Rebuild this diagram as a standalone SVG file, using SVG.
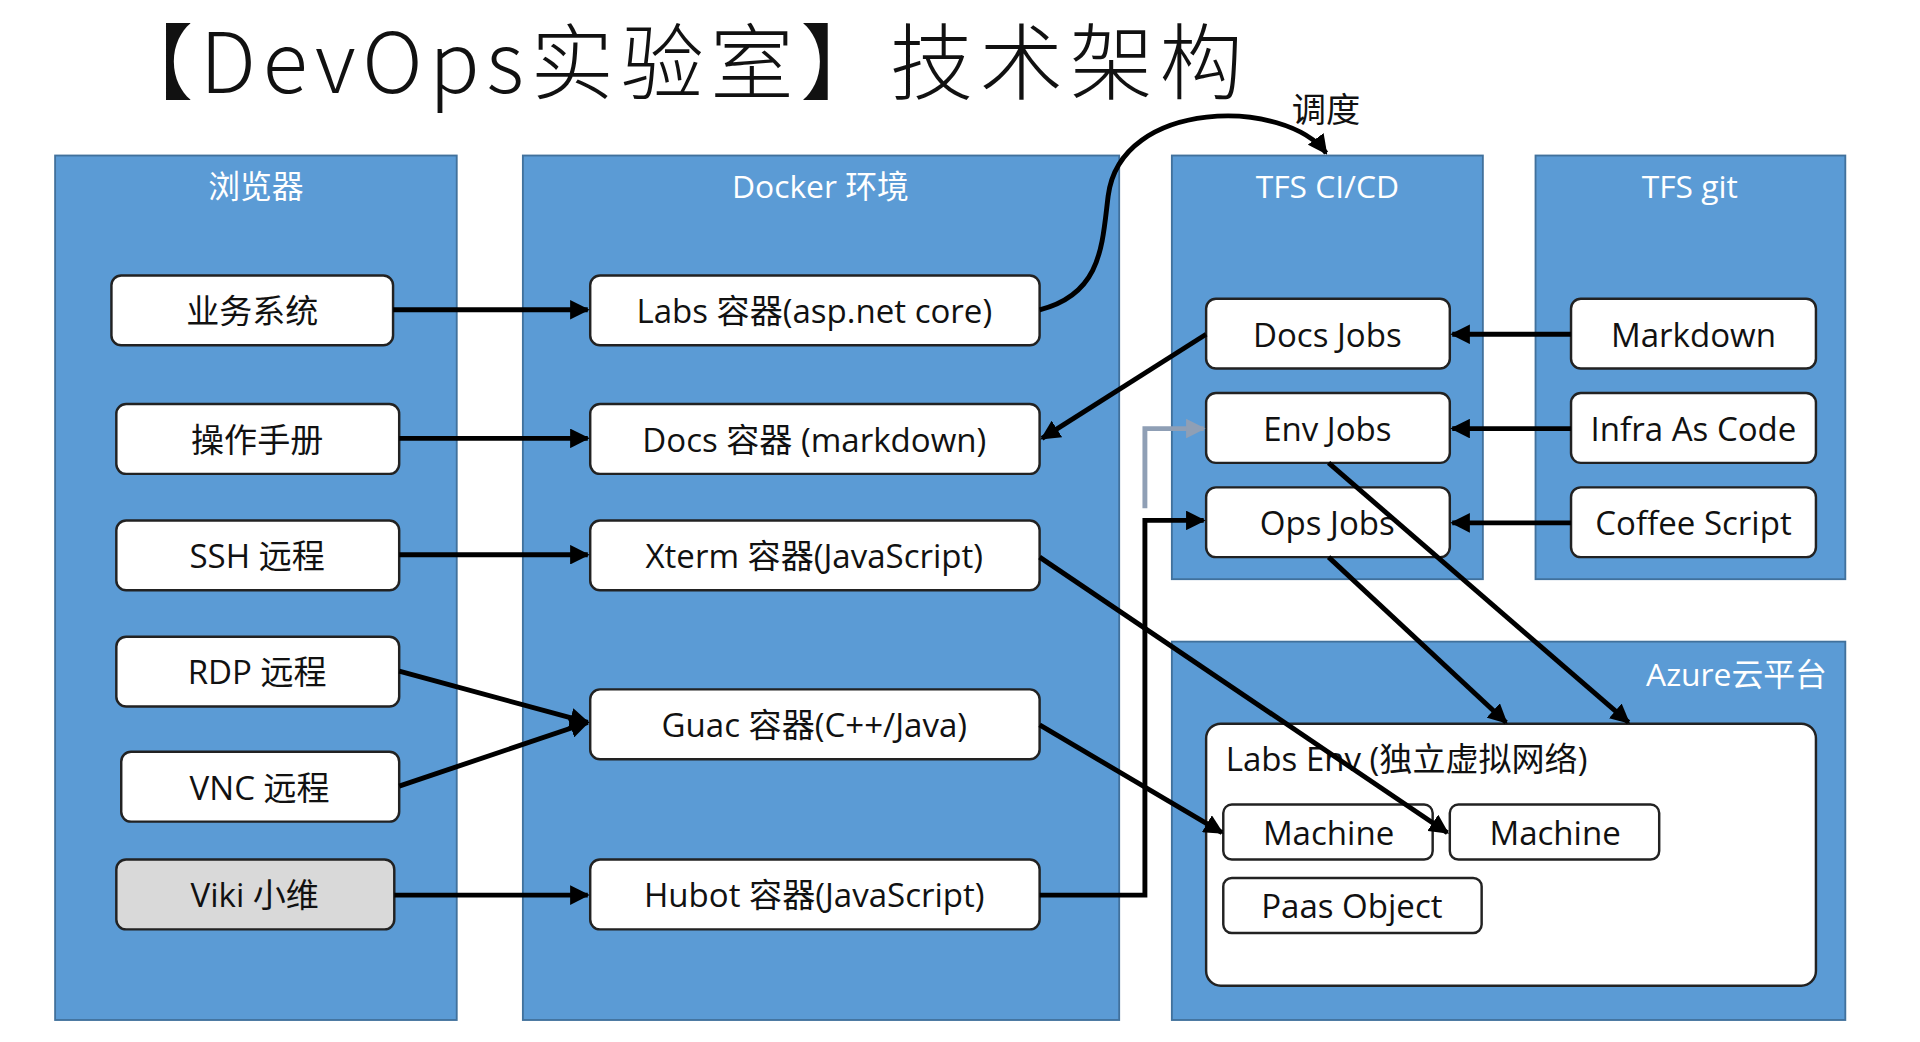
<svg xmlns="http://www.w3.org/2000/svg" width="1920" height="1042" viewBox="0 0 1920 1042">
<style>
.p{fill:#5b9bd5;stroke:#41719c;stroke-width:1.5}
.pt{fill:#fff;font-family:"Open Sans","Noto Sans CJK SC",sans-serif;font-size:26px;text-anchor:middle}
.n{fill:#fff;stroke:#222;stroke-width:2}
.t{fill:#111;font-family:"Open Sans","Noto Sans CJK SC",sans-serif;font-size:27px;text-anchor:middle}
.c{fill:none;stroke:#000;stroke-width:4;marker-end:url(#a)}
</style>
<defs>
<marker id="a" viewBox="0 0 10 10" refX="9" refY="5" markerWidth="4" markerHeight="4" orient="auto" markerUnits="strokeWidth"><path d="M0,0L10,5L0,10z" fill="#000"/></marker>
<marker id="g" viewBox="0 0 10 10" refX="9" refY="5" markerWidth="4" markerHeight="4" orient="auto" markerUnits="strokeWidth"><path d="M0,0L10,5L0,10z" fill="#8f9fb5"/></marker>
</defs>
<rect width="1920" height="1042" fill="#fff"/>
<g transform="scale(1.2245)">
<text x="90" y="76" font-family="'Noto Sans CJK SC',sans-serif" font-size="68" font-weight="300" fill="#111" textLength="925">【DevOps实验室】技术架构</text>
<g id="panels">
<rect class="p" x="45" y="127" width="328" height="706"/><text class="pt" x="209" y="162">浏览器</text>
<rect class="p" x="427" y="127" width="487" height="706"/><text class="pt" x="670" y="162">Docker 环境</text>
<rect class="p" x="957" y="127" width="254" height="346"/><text class="pt" x="1084" y="162">TFS CI/CD</text>
<rect class="p" x="1254" y="127" width="253" height="346"/><text class="pt" x="1380" y="162">TFS git</text>
<rect class="p" x="957" y="524" width="550" height="309"/><text class="pt" x="1492" y="560" style="text-anchor:end">Azure云平台</text>
</g>
<g id="n1"><rect class="n" x="91" y="225" width="230" height="57" rx="8"/><text class="t" x="206" y="264">业务系统</text></g>
<g id="n2"><rect class="n" x="95" y="330" width="231" height="57" rx="8"/><text class="t" x="210" y="369">操作手册</text></g>
<g id="n3"><rect class="n" x="95" y="425" width="231" height="57" rx="8"/><text class="t" x="210" y="464">SSH 远程</text></g>
<g id="n4"><rect class="n" x="95" y="520" width="231" height="57" rx="8"/><text class="t" x="210" y="559">RDP 远程</text></g>
<g id="n5"><rect class="n" x="99" y="614" width="227" height="57" rx="8"/><text class="t" x="212" y="653">VNC 远程</text></g>
<g id="n6"><rect class="n" x="95" y="702" width="227" height="57" rx="8" style="fill:#d9d9d9"/><text class="t" x="208" y="741">Viki 小维</text></g>
<g id="d1"><rect class="n" x="482" y="225" width="367" height="57" rx="8"/><text class="t" x="665" y="264">Labs 容器(asp.net core)</text></g>
<g id="d2"><rect class="n" x="482" y="330" width="367" height="57" rx="8"/><text class="t" x="665" y="369">Docs 容器 (markdown)</text></g>
<g id="d3"><rect class="n" x="482" y="425" width="367" height="57" rx="8"/><text class="t" x="665" y="464">Xterm 容器(JavaScript)</text></g>
<g id="d4"><rect class="n" x="482" y="563" width="367" height="57" rx="8"/><text class="t" x="665" y="602">Guac 容器(C++/Java)</text></g>
<g id="d5"><rect class="n" x="482" y="702" width="367" height="57" rx="8"/><text class="t" x="665" y="741">Hubot 容器(JavaScript)</text></g>
<g id="j1"><rect class="n" x="985" y="244" width="199" height="57" rx="8"/><text class="t" x="1084" y="283">Docs Jobs</text></g>
<g id="j2"><rect class="n" x="985" y="321" width="199" height="57" rx="8"/><text class="t" x="1084" y="360">Env Jobs</text></g>
<g id="j3"><rect class="n" x="985" y="398" width="199" height="57" rx="8"/><text class="t" x="1084" y="437">Ops Jobs</text></g>
<g id="g1"><rect class="n" x="1283" y="244" width="200" height="57" rx="8"/><text class="t" x="1383" y="283">Markdown</text></g>
<g id="g2"><rect class="n" x="1283" y="321" width="200" height="57" rx="8"/><text class="t" x="1383" y="360">Infra As Code</text></g>
<g id="g3"><rect class="n" x="1283" y="398" width="200" height="57" rx="8"/><text class="t" x="1383" y="437">Coffee Script</text></g>
<g id="env"><rect class="n" x="985" y="591" width="498" height="214" rx="12"/><text class="t" x="1001" y="630" style="text-anchor:start">Labs Env (独立虚拟网络)</text></g>
<g id="m1"><rect class="n" x="999" y="657" width="171" height="45" rx="7"/><text class="t" x="1085" y="690">Machine</text></g>
<g id="m2"><rect class="n" x="1184" y="657" width="171" height="45" rx="7"/><text class="t" x="1270" y="690">Machine</text></g>
<g id="m3"><rect class="n" x="999" y="717" width="211" height="45" rx="7"/><text class="t" x="1104" y="750">Paas Object</text></g>
<g id="connectors">
<path class="c" d="M321,253H480"/>
<path class="c" d="M326,358H480"/>
<path class="c" d="M326,453H480"/>
<path class="c" d="M326,548L480,590"/>
<path class="c" d="M326,642L480,590"/>
<path class="c" d="M322,731H480"/>
<path class="c" d="M849,253C900,240 900,200 905,160C915,80 1050,80 1083,125"/>
<path class="c" d="M985,273L851,358"/>
<path class="c" d="M849,455L1182,680"/>
<path class="c" d="M849,592L998,680"/>
<path class="c" d="M849,731H935V425H983"/>
<path d="M935,415V350H983" fill="none" stroke="#8f9fb5" stroke-width="4" marker-end="url(#g)"/>
<path class="c" d="M1283,273H1186"/>
<path class="c" d="M1283,350H1186"/>
<path class="c" d="M1283,427H1186"/>
<path class="c" d="M1085,378L1330,590"/>
<path class="c" d="M1085,455L1230,590"/>
<text x="1055" y="100" font-family="'Noto Sans CJK SC',sans-serif" font-size="28" fill="#111">调度</text>
</g>
</g>
</svg>
